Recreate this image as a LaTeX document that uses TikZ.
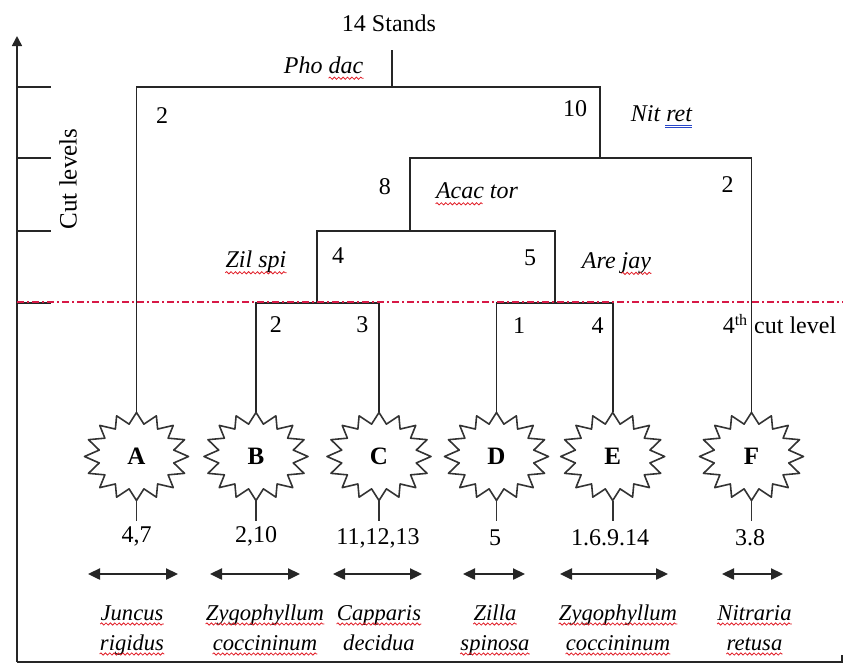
\documentclass[tikz,border=0pt]{standalone}
\usepackage{fontspec}
\setmainfont{Liberation Serif}
\usetikzlibrary{arrows.meta,calc,shapes.geometric,decorations.pathmorphing}
\definecolor{spellred}{RGB}{225,30,40}
\definecolor{spellblue}{RGB}{40,70,200}
\definecolor{cutred}{RGB}{215,25,70}
\newcommand\starburst[1]{%
  \draw[starline,shift={(#1.center)}] (0,-44)
    \foreach \k [evaluate=\k as \a using {90+\k*11.25},
                 evaluate=\k as \rx using {ifthenelse(mod(\k,2)==0,52,38)},
                 evaluate=\k as \ry using {ifthenelse(mod(\k,2)==0,44,33)}] in {1,...,31} { -- ({\rx*cos(\a)},{-\ry*sin(\a)})} -- cycle;}
\newcommand\squigunder[1]{\draw[squig] ($(#1.base west)+(0,4)$) -- ($(#1.base east)+(0,4)$);}
\begin{document}
\begin{tikzpicture}[x=0.5pt,y=-0.5pt,
  tree/.style={line width=0.9pt,draw=black!85},
  axisline/.style={line width=0.8pt,draw=black!85},
  lbl/.style={font=\fontsize{12}{14}\selectfont,inner sep=0pt},
  ilbl/.style={font=\fontsize{12}{14}\selectfont\itshape,inner sep=0pt},
  spec/.style={font=\fontsize{11.3}{14}\selectfont\itshape,inner sep=0pt,anchor=base},
  leaf/.style={ellipse,minimum width=52pt,minimum height=44pt,inner sep=0pt,font=\fontsize{12.5}{14}\selectfont\bfseries},
  starline/.style={line width=0.8pt,draw=black!80,line join=round},
  dbl/.style={line width=1.2pt,draw=black!85,{Triangle[length=6pt,width=5.5pt]}-{Triangle[length=6pt,width=5.5pt]}},
  cutline/.style={draw=cutred,line width=0.6pt,dash pattern=on 3.5pt off 1.5pt on 1pt off 1.5pt},
  squig/.style={draw=spellred,line width=0.4pt,decorate,decoration={snake,amplitude=0.55pt,segment length=2.2pt}},
  blueul/.style={draw=spellblue,line width=0.4pt}
]
\useasboundingbox (0,0) rectangle (843,666);

% axis and frame
\draw[axisline,-{Triangle[length=5pt,width=5pt]}] (17,662) -- (17,36);
\draw[axisline] (17,662) -- (842,662) -- (842,655);
\foreach \yy in {87,158,231,303} \draw[axisline] (17,\yy) -- (51,\yy);
\node[lbl,rotate=90,font=\fontsize{12.5}{14}\selectfont] (cutlv) at (68,179) {Cut levels};

% leaves
\node[leaf] (A) at (136.5,456.5) {A};
\node[leaf] (B) at (256,456.5) {B};
\node[leaf] (C) at (379,456.5) {C};
\node[leaf] (D) at (496.5,456.5) {D};
\node[leaf] (E) at (612.7,456.5) {E};
\node[leaf] (F) at (751.5,456.5) {F};
\foreach \n in {A,B,C,D,E,F}{\starburst{\n}\draw[starline] (\n.south) -- ++(0,20);}

% junctions
\coordinate (top) at (392,50);
\coordinate (c14) at (392,87);
\coordinate (c10) at (600,158);
\coordinate (c8) at (410,231);
\coordinate (c4) at (317,303);
\coordinate (c5) at (555,303);

\draw[tree] (top) -- (c14);
\draw[tree] (A.north) |- (c14 -| c10) -- (c10);
\draw[tree] (c8) |- (c10) -| (F.north);
\draw[tree] (c4) |- (c8) -| (c5);
\draw[tree] (B.north) |- (c4) -| (C.north);
\draw[tree] (D.north) |- (c5) -| (E.north);

\draw[cutline] (17,302) -- (843,302);

% labels on tree
\node[lbl] (t14) at (389,23) {14 Stands};
\node[ilbl] (pho) at (323.5,65) {Pho dac};
\draw[squig] ($(pho.base east)+(-35,5)$) -- ($(pho.base east)+(0,5)$);
\node[lbl] (l2a) at (162,116) {2};
\node[lbl] (l10) at (575,109) {10};
\node[ilbl] (nit) at (661.5,114) {Nit ret};
\draw[blueul] ($(nit.base east)+(-27,3.5)$) -- ($(nit.base east)+(0,3.5)$);
\draw[blueul] ($(nit.base east)+(-27,6)$) -- ($(nit.base east)+(0,6)$);
\node[lbl] (l8) at (385,187) {8};
\node[ilbl] (acac) at (477,191) {Acac tor};
\draw[squig] ($(acac.base west)+(0,5)$) -- ($(acac.base west)+(47,5)$);
\node[lbl] (l2b) at (727.5,184.5) {2};
\node[ilbl] (zil) at (256,262) {Zil spi};
\draw[squig] ($(zil.base west)+(0,5)$) -- ($(zil.base east)+(0,5)$);
\node[lbl] (l4a) at (338,256) {4};
\node[lbl] (l5) at (530,258) {5};
\node[ilbl] (are) at (616.5,263) {Are jay};
\draw[squig] ($(are.base east)+(-30,5)$) -- ($(are.base east)+(0,5)$);
\node[lbl] (l2c) at (276,325) {2};
\node[lbl] (l3) at (362.5,325) {3};
\node[lbl] (l1) at (519,326) {1};
\node[lbl] (l4b) at (597.5,326) {4};
\node[lbl] (cut4) at (779.5,324) {4\textsuperscript{th} cut level};

% counts
\node[lbl] (nA) at (136.5,536) {4,7};
\node[lbl] (nB) at (256,536) {2,10};
\node[lbl] (nC) at (378,538) {11,12,13};
\node[lbl] (nD) at (495,538) {5};
\node[lbl] (nE) at (610,538) {1.6.9.14};
\node[lbl] (nF) at (750,538) {3.8};

% arrows
\draw[dbl] (88,574) coordinate (aA1) -- (178,574) coordinate (aA2);
\draw[dbl] (210,574) coordinate (aB1) -- (300,574) coordinate (aB2);
\draw[dbl] (333,574) coordinate (aC1) -- (422,574) coordinate (aC2);
\draw[dbl] (463,574) coordinate (aD1) -- (525,574) coordinate (aD2);
\draw[dbl] (560,574) coordinate (aE1) -- (668,574) coordinate (aE2);
\draw[dbl] (722,574) coordinate (aF1) -- (783,574) coordinate (aF2);

% species
\node[spec] (sA1) at (132,620) {Juncus};
\node[spec] (sA2) at (132,650) {rigidus};
\node[spec] (sB1) at (265,620) {Zygophyllum};
\node[spec] (sB2) at (265,650) {coccininum};
\node[spec] (sC1) at (379,620) {Capparis};
\node[spec] (sC2) at (379,650) {decidua};
\node[spec] (sD1) at (495,620) {Zilla};
\node[spec] (sD2) at (495,650) {spinosa};
\node[spec] (sE1) at (618,620) {Zygophyllum};
\node[spec] (sE2) at (618,650) {coccininum};
\node[spec] (sF1) at (754.5,620) {Nitraria};
\node[spec] (sF2) at (754.5,650) {retusa};
\foreach \s in {sA1,sA2,sB1,sB2,sC1,sD1,sD2,sE1,sE2,sF1,sF2}{\squigunder{\s}}
\end{tikzpicture}
\end{document}
